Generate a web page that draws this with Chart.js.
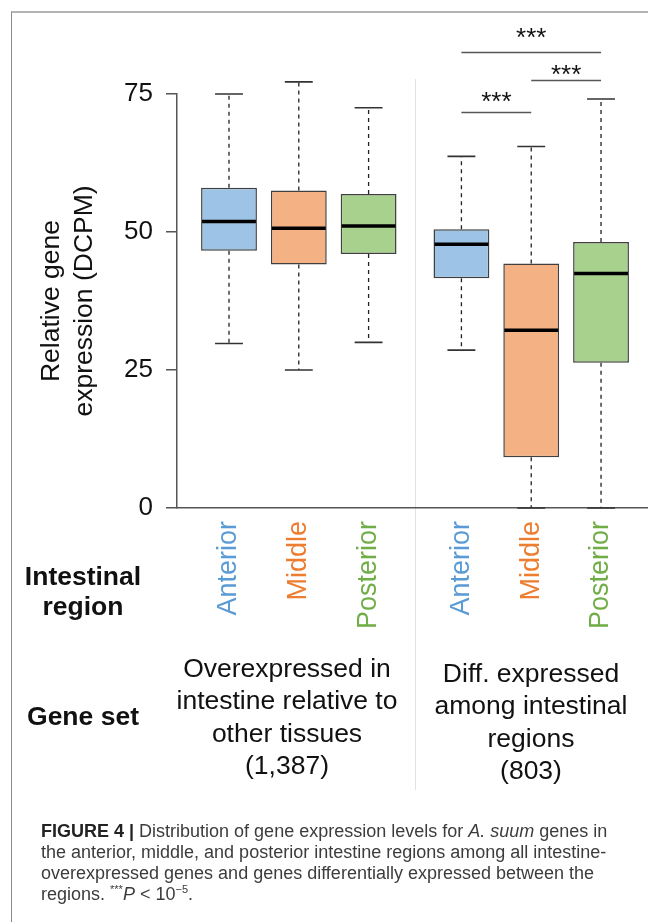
<!DOCTYPE html>
<html>
<head>
<meta charset="utf-8">
<script src="https://cdn.jsdelivr.net/npm/chart.js@4.4.1/dist/chart.umd.min.js"></script>
<style>
  html, body { margin: 0; padding: 0; background: #fff; }
  #page { position: relative; width: 648px; height: 922px; overflow: hidden; font-family: "Liberation Sans", Arial, sans-serif; }
  #frame { position: absolute; left: 11px; top: 11px; width: 640px; height: 920px;
           border-top: 2px solid #b4b4b4; border-left: 1.5px solid #8a8a8a; }
  #chart { position: absolute; left: 0; top: 0; }
  .lbl { position: absolute; text-align: center; color: #111; white-space: nowrap; }
  .bold { font-weight: bold; font-size: 26.5px; line-height: 30px; }
  .set { font-size: 26.5px; line-height: 32.3px; }
  #caption { position: absolute; left: 41px; top: 821px; font-size: 18px; line-height: 21px;
             color: #3c3c3c; white-space: nowrap; }
  #caption b { color: #222; }
  sup { font-size: 11px; line-height: 0; }
</style>
</head>
<body>
<div id="page">
  <div id="frame"></div>
  <canvas id="chart" width="648" height="922"></canvas>

  <div class="lbl bold" style="left:0; width:166px; top:561px;">Intestinal<br>region</div>
  <div class="lbl bold" style="left:0; width:166px; top:701px;">Gene set</div>
  <div class="lbl set" id="set0" style="left:137px; width:300px; top:652px;"></div>
  <div class="lbl set" id="set1" style="left:391px; width:280px; top:657px;"></div>

  <div id="caption"><b>FIGURE 4 |</b> Distribution of gene expression levels for <i>A. suum</i> genes in<br>
  the anterior, middle, and posterior intestine regions among all intestine-<br>
  overexpressed genes and genes differentially expressed between the<br>
  regions. <sup>***</sup><i>P</i> &lt; 10<sup>−5</sup>.</div>
</div>

<script>
// regions along the x axis (two gene sets of three regions each)
const regions = ['Anterior', 'Middle', 'Posterior', 'Anterior', 'Middle', 'Posterior'];
const positions = [1, 2, 3, 4.33, 5.33, 6.33];

// box plot statistics (DCPM)
const whiskerLow  = [29.8, 25.0, 30.0, 28.6, 0.0, 0.0];
const q1          = [46.6, 44.1, 46.0, 41.6, 9.2, 26.3];
const medians     = [51.9, 50.7, 51.1, 47.8, 32.2, 42.5];
const q3          = [58.0, 57.5, 56.9, 50.5, 44.3, 48.2];
const whiskerHigh = [75.0, 77.2, 72.5, 63.7, 65.5, 74.1];

const yTicks = [0, 25, 50, 75];

const geneSets = [
    ['Overexpressed in', 'intestine relative to', 'other tissues', '(1,387)'],
    ['Diff. expressed', 'among intestinal', 'regions', '(803)']
];

// significance brackets between boxes (indexes into positions)
const comparisons = [[3, 4], [4, 5], [3, 5]];
const sigLabel = '***';

const textColors = ['#5b9bd5', '#ed7d31', '#70ad47'];
const fillColors = ['#9dc3e6', '#f4b183', '#a9d18e'];

document.getElementById('set0').innerHTML = geneSets[0].join('<br>');
document.getElementById('set1').innerHTML = geneSets[1].join('<br>');

const boxPlugin = {
    id: 'boxParts',
    beforeDraw(chart) {
        const { ctx } = chart;
        const xs = chart.scales.x;
        // light separator between the two gene sets
        const sx = Math.round(xs.getPixelForValue((positions[2] + positions[3]) / 2)) + 0.5;
        ctx.save();
        ctx.strokeStyle = '#e2e2e2';
        ctx.lineWidth = 1;
        ctx.beginPath();
        ctx.moveTo(sx, 79);
        ctx.lineTo(sx, 790);
        ctx.stroke();
        ctx.restore();
    },
    beforeDatasetsDraw(chart) {
        const { ctx } = chart;
        const xs = chart.scales.x, ys = chart.scales.y;
        const bars = chart.getDatasetMeta(0).data;
        ctx.save();
        positions.forEach((p, i) => {
            const x = xs.getPixelForValue(p);
            const w = bars[i].width;
            // dashed whiskers
            ctx.strokeStyle = '#222';
            ctx.lineWidth = 1.3;
            ctx.setLineDash([4, 4]);
            ctx.beginPath();
            ctx.moveTo(x, ys.getPixelForValue(q3[i]));
            ctx.lineTo(x, ys.getPixelForValue(whiskerHigh[i]));
            ctx.moveTo(x, ys.getPixelForValue(q1[i]));
            ctx.lineTo(x, ys.getPixelForValue(whiskerLow[i]));
            ctx.stroke();
            // caps
            ctx.setLineDash([]);
            ctx.strokeStyle = '#333';
            ctx.lineWidth = 1.6;
            ctx.beginPath();
            [whiskerHigh[i], whiskerLow[i]].forEach(v => {
                const y = ys.getPixelForValue(v);
                ctx.moveTo(x - w / 4, y);
                ctx.lineTo(x + w / 4, y);
            });
            ctx.stroke();
        });
        ctx.restore();
    },
    afterDatasetsDraw(chart) {
        const { ctx } = chart;
        const xs = chart.scales.x, ys = chart.scales.y;
        const bars = chart.getDatasetMeta(0).data;
        ctx.save();
        ctx.strokeStyle = '#000';
        ctx.lineWidth = 3.5;
        positions.forEach((p, i) => {
            const x = xs.getPixelForValue(p);
            const w = bars[i].width;
            const y = ys.getPixelForValue(medians[i]);
            ctx.beginPath();
            ctx.moveTo(x - w / 2 + 1, y);
            ctx.lineTo(x + w / 2 - 1, y);
            ctx.stroke();
        });
        ctx.restore();
    },
    afterDraw(chart) {
        const { ctx } = chart;
        const xs = chart.scales.x;
        // bracket heights and star offsets in pixels
        const lineY = [112, 80, 52];
        const starGap = [18, 13, 22];
        ctx.save();
        ctx.strokeStyle = '#555';
        ctx.lineWidth = 1.3;
        ctx.fillStyle = '#111';
        ctx.font = '26px "Liberation Sans", Arial, sans-serif';
        ctx.textAlign = 'center';
        ctx.textBaseline = 'alphabetic';
        comparisons.forEach(([a, b], k) => {
            const x1 = xs.getPixelForValue(positions[a]);
            const x2 = xs.getPixelForValue(positions[b]);
            const y = lineY[k] + 0.5;
            ctx.beginPath();
            ctx.moveTo(x1, y);
            ctx.lineTo(x2, y);
            ctx.stroke();
            ctx.fillText(sigLabel, (x1 + x2) / 2, y - starGap[k] + 15);
        });
        ctx.restore();
    }
};

const ctx = document.getElementById('chart').getContext('2d');
new Chart(ctx, {
    type: 'bar',
    data: {
        datasets: [{
            data: positions.map((p, i) => ({ x: p, y: [q1[i], q3[i]] })),
            backgroundColor: positions.map((p, i) => fillColors[i % 3]),
            borderColor: '#404040',
            borderWidth: 1.5,
            borderSkipped: false,
            categoryPercentage: 0.8,
            barPercentage: 1.0
        }]
    },
    options: {
        responsive: false,
        animation: false,
        layout: { padding: { top: 94, left: 0, right: 0, bottom: 284 } },
        plugins: {
            legend: { display: false },
            tooltip: { enabled: false }
        },
        scales: {
            x: {
                type: 'linear',
                min: 0.255,
                max: 7.003,
                offset: false,
                grid: { display: false, drawTicks: false },
                border: { display: true, color: '#555', width: 1.5 },
                afterBuildTicks: (scale) => {
                    scale.ticks = positions.map(v => ({ value: v }));
                },
                afterFit: (scale) => { scale.height = 130; },
                ticks: {
                    autoSkip: false,
                    minRotation: 90,
                    maxRotation: 90,
                    padding: 13,
                    font: { family: '"Liberation Sans", Arial, sans-serif', size: 27 },
                    color: (c) => textColors[c.index % 3],
                    callback: (value, index) => regions[index]
                }
            },
            y: {
                min: 0,
                max: 75,
                afterFit: (scale) => { scale.width = 177; },
                afterBuildTicks: (scale) => {
                    scale.ticks = yTicks.map(v => ({ value: v }));
                },
                grid: {
                    display: true,
                    drawOnChartArea: false,
                    drawTicks: true,
                    tickLength: 11,
                    color: '#555',
                    lineWidth: 1.5
                },
                border: { display: true, color: '#555', width: 1.5 },
                ticks: {
                    padding: 13,
                    color: '#111',
                    font: { family: '"Liberation Sans", Arial, sans-serif', size: 26 }
                },
                title: {
                    display: true,
                    text: ['Relative gene', 'expression (DCPM)'],
                    color: '#111',
                    padding: { top: 36, bottom: 0 },
                    font: { family: '"Liberation Sans", Arial, sans-serif', size: 26.5, lineHeight: 1.22 }
                }
            }
        }
    },
    plugins: [boxPlugin]
});
</script>
</body>
</html>
